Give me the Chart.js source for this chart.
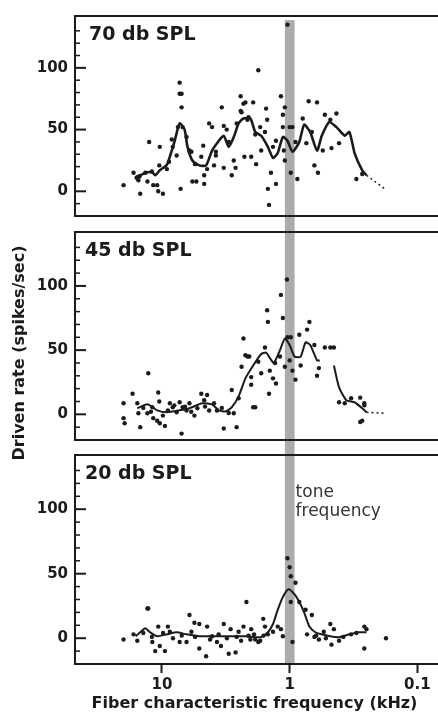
<!DOCTYPE html>
<html>
<head>
<meta charset="utf-8">
<script src="https://cdn.jsdelivr.net/npm/chart.js@4.4.1/dist/chart.umd.min.js"></script>
<style>
  html, body { margin: 0; padding: 0; background: #fff; }
  #wrap { position: relative; width: 438px; height: 721px; }
  #wrap canvas { position: absolute; left: 0; top: 0; }
</style>
</head>
<body>
<div id="wrap">
  <canvas id="panel70" width="438" height="721"></canvas>
  <canvas id="panel45" width="438" height="721"></canvas>
  <canvas id="panel20" width="438" height="721"></canvas>
</div>
<script>
// axis values
const xTickVals = [10, 1, 0.1];
const yLabelVals = [0, 50, 100];
const yTickVals = [-10, 0, 10, 20, 30, 40, 50, 60, 70, 80, 90, 100, 110, 120, 130];
const xRange = [0.074, 48];
const yRange = [-20, 142];
const toneBand = [0.915, 1.09];   // kHz, shaded tone frequency

const xTitle = 'Fiber characteristic frequency (kHz)';
const yTitle = 'Driven rate (spikes/sec)';
const toneLabel = ['tone', 'frequency'];
const levelLabels = ['70 db SPL', '45 db SPL', '20 db SPL'];

// 70 dB SPL  [kHz, spikes/sec]
const dots70 = [
  [20.0, 5], [16.7, 15], [15.8, 11], [15.3, 9], [14.8, -2], [13.0, 8], [12.6, 40], [11.7, 5], [10.9, 5],
  [10.7, 0], [10.5, 21], [10.4, 36], [9.83, -2], [9.15, 18], [8.38, 42], [8.23, 36], [7.67, 29], [7.27, 88],
  [7.27, 79], [7.02, 79], [7.02, 68], [7.14, 2], [6.89, 52], [6.42, 44], [6.09, 33], [5.88, 32], [5.78, 8],
  [5.38, 8], [4.92, 28], [4.75, 37], [4.67, 13], [4.67, 6], [4.43, 18], [4.27, 55], [4.05, 52], [3.91, 21],
  [3.78, 29], [3.78, 32], [3.40, 68], [3.28, 53], [3.28, 19], [3.11, 50], [3.0, 40], [2.84, 13], [2.74, 25],
  [2.65, 19], [2.42, 77], [2.42, 65], [2.38, 64], [2.30, 71], [2.26, 28], [2.22, 72], [2.14, 58], [2.0, 28],
  [1.93, 72], [1.86, 46], [1.83, 22], [1.76, 98], [1.70, 52], [1.67, 33], [1.56, 48], [1.53, 67], [1.50, 58],
  [1.48, 2], [1.45, -11], [1.40, 15], [1.35, 36], [1.28, 6], [1.28, 41], [1.17, 77], [1.13, 62], [1.13, 52],
  [1.11, 33], [1.09, 68], [1.09, 25], [1.04, 135], [1.0, 52], [0.98, 15], [0.95, 52], [0.87, 10], [0.79, 59],
  [0.74, 39], [0.71, 73], [0.67, 48], [0.64, 21], [0.61, 72], [0.60, 15], [0.55, 33], [0.53, 62], [0.48, 58],
  [0.47, 35], [0.43, 63], [0.41, 39], [0.30, 10], [0.27, 14],
  [15.0, 12], [13.5, 15], [12.0, 16], [8.8, 24], [7.5, 52], [5.5, 22], [2.6, 55], [2.1, 60], [0.9, 40]
];
const line70 = [
  [16.1, 11.5], [14.8, 13], [13.0, 15.4], [11.9, 15.4], [11.3, 13], [10.4, 17], [9.15, 21.5], [8.38, 33],
  [7.94, 41], [7.27, 55], [6.65, 50], [6.31, 36], [5.78, 25], [5.10, 21], [4.51, 21], [4.05, 33], [3.58, 41],
  [3.28, 45], [3.0, 36], [2.74, 44], [2.51, 55], [2.30, 59], [2.03, 59], [1.86, 48], [1.67, 45], [1.48, 36],
  [1.35, 27], [1.24, 31], [1.13, 44], [1.04, 41], [0.95, 32], [0.84, 40], [0.77, 54], [0.69, 48], [0.61, 33],
  [0.56, 45], [0.49, 56], [0.43, 52], [0.37, 45], [0.34, 48], [0.31, 31], [0.27, 17], [0.25, 13]
];
const tail70 = [[0.25, 13], [0.18, 2]];

// 45 dB SPL
const dots45 = [
  [20.0, 8.6], [20.0, -3], [19.6, -7], [17.0, 16], [15.6, 8.6], [15.3, 0.8], [14.8, -10], [13.0, 0.8],
  [12.8, 32], [11.9, 5.5], [11.7, -3], [10.9, -5], [10.7, 17], [10.5, 10], [10.4, -7], [9.83, -1], [9.48, -9],
  [8.99, 3], [8.68, 8.6], [8.23, 5.5], [7.67, 1.6], [7.27, 9.4], [7.02, -15], [6.89, 5.5], [6.42, 3],
  [6.09, 8.6], [5.57, -1], [5.28, 4.7], [4.92, 16], [4.67, 11], [4.43, 15], [4.27, 3], [3.91, 8.6], [3.71, 3],
  [3.28, -11], [2.84, 19], [2.74, 0.8], [2.60, -10], [2.51, 12.5], [2.38, 37], [2.30, 59], [2.22, 46],
  [2.14, 45], [2.07, 45], [2.0, 29], [2.0, 23], [1.93, 5.5], [1.86, 5.5], [1.76, 41], [1.67, 32], [1.56, 52],
  [1.50, 81], [1.48, 72], [1.45, 16], [1.43, 34], [1.35, 28], [1.30, 40], [1.28, 24], [1.19, 45], [1.17, 93],
  [1.13, 75], [1.09, 37], [1.05, 105], [1.04, 60], [1.0, 42], [0.98, 60], [0.95, 34], [0.90, 27], [0.84, 62],
  [0.82, 38], [0.73, 66], [0.70, 72], [0.64, 54], [0.61, 30], [0.59, 36], [0.53, 52], [0.48, 52], [0.45, 52],
  [0.41, 9.4], [0.37, 8.6], [0.33, 12.5], [0.28, 13], [0.26, 8.6], [0.26, 7], [0.27, -5], [0.28, -6],
  [14.0, 5], [12.2, 2], [8.0, 7], [6.6, 6], [5.9, 2], [4.6, 6], [3.4, 5], [3.0, 1]
];
const line45 = [
  [15.6, 4.7], [13.0, 7.8], [10.9, 3.1], [9.15, 1.6], [7.27, 3.1], [6.09, 4.7], [4.84, 8.6], [4.05, 7.8],
  [3.58, 3.1], [3.16, 2.3], [2.84, 5.5], [2.51, 14], [2.22, 28], [1.93, 38], [1.67, 47], [1.53, 48], [1.43, 44],
  [1.33, 40], [1.19, 50], [1.09, 59], [1.0, 54], [0.915, 45], [0.82, 45], [0.75, 56], [0.69, 54], [0.61, 42],
  [0.58, 42], [0.52, null], [0.45, 38], [0.41, 21], [0.36, 11], [0.31, 9.4], [0.27, 4.7], [0.25, 1.6]
];
const tail45 = [[0.25, 1.6], [0.18, 0.8]];

// 20 dB SPL
const dots20 = [
  [20.0, -1], [16.7, 3], [15.6, -2], [13.0, 23], [12.8, 23], [11.9, -3], [11.3, -10], [10.7, 9], [10.4, -6],
  [9.48, -10], [8.99, 9], [8.68, 5], [7.27, -3], [6.42, -3], [6.09, 18], [5.88, 5], [5.57, 12], [5.10, 11],
  [5.10, -8], [4.51, -14], [4.43, 9], [4.05, 1.5], [3.71, -3], [3.45, -6], [3.28, 11], [3.0, -12], [2.90, 7],
  [2.65, -11], [2.51, 5], [2.30, 9], [2.18, 28], [2.03, -1], [2.0, 7], [1.86, -1], [1.76, -3], [1.61, 15],
  [1.56, 9], [1.48, 3], [1.35, 5], [1.24, 9], [1.17, 7], [1.13, 1.5], [1.04, 62], [1.0, 55], [0.98, 48],
  [0.98, 28], [0.95, -3], [0.90, 43], [0.84, 28], [0.75, 22], [0.67, 18], [0.73, 3], [0.64, 1], [0.59, -1],
  [0.54, 5], [0.48, 11], [0.47, -5], [0.45, 7], [0.41, -2], [0.26, 9], [0.26, -8], [0.25, 7], [0.176, 0],
  [14.0, 4], [12.0, 1], [9.8, 4], [8.2, 0], [7.0, 2], [5.5, 1], [4.2, -1], [3.6, 3], [3.1, 0], [2.6, 1],
  [2.4, -2], [2.1, 2], [1.9, 3], [1.7, -2], [1.6, 2], [0.62, 2], [0.52, 0], [0.38, 1], [0.33, 3], [0.30, 4]
];
const line20 = [
  [16.1, 1.5], [14.8, 4.6], [13.5, 7.7], [12.4, 4.6], [10.9, 1.5], [9.15, 3], [7.67, 4.6], [6.42, 3],
  [5.10, 1.5], [3.78, 1.5], [2.84, 1.5], [2.22, 1.5], [1.86, 0.8], [1.67, 0.8], [1.48, 4.6], [1.35, 11],
  [1.24, 22], [1.13, 32], [1.02, 38], [0.915, 34], [0.84, 28], [0.77, 20], [0.70, 9], [0.63, 4.6], [0.56, 3],
  [0.48, 1.5], [0.41, 0.8], [0.34, 3], [0.29, 4.6], [0.25, 4.6]
];

const INK = '#1b1b1b';
const FONT = 'DejaVu Sans';
Chart.defaults.font.family = FONT;

function toXY(arr) {
    return arr.map(p => ({ x: p[0], y: p[1] }));
}

// shaded band, frame, inside ticks and panel texts
const panelDecor = {
    id: 'panelDecor',
    beforeDatasetsDraw(chart, args, opts) {
        const { ctx, chartArea: a } = chart;
        const xs = chart.scales.x;
        const x1 = xs.getPixelForValue(toneBand[1]);
        const x2 = xs.getPixelForValue(toneBand[0]);
        ctx.save();
        ctx.fillStyle = '#acacac';
        ctx.fillRect(Math.min(x1, x2), a.top + opts.bandTop, Math.abs(x2 - x1),
            (a.bottom + opts.bandBottom) - (a.top + opts.bandTop));
        ctx.restore();
    },
    afterDraw(chart, args, opts) {
        const { ctx, chartArea: a } = chart;
        const ys = chart.scales.y;
        ctx.save();
        ctx.strokeStyle = INK;
        ctx.lineWidth = 2;
        ctx.beginPath();
        ctx.moveTo(chart.width, a.top);
        ctx.lineTo(a.left, a.top);
        ctx.lineTo(a.left, a.bottom);
        ctx.lineTo(chart.width, a.bottom);
        ctx.stroke();

        // y ticks pointing into the plot
        yTickVals.forEach(v => {
            const y = ys.getPixelForValue(v);
            const major = yLabelVals.includes(v);
            ctx.lineWidth = major ? 2 : 1.5;
            ctx.beginPath();
            ctx.moveTo(a.left, y);
            ctx.lineTo(a.left + (major ? 11 : 5), y);
            ctx.stroke();
        });

        ctx.fillStyle = INK;
        ctx.font = 'bold 19px ' + FONT;
        ctx.textAlign = 'left';
        ctx.textBaseline = 'alphabetic';
        ctx.fillText(opts.label, opts.labelX, a.top + 24);

        if (opts.yTitle) {
            ctx.save();
            ctx.translate(24, 353);
            ctx.rotate(-Math.PI / 2);
            ctx.font = 'bold 16px ' + FONT;
            ctx.textAlign = 'center';
            ctx.fillText(yTitle, 0, 0);
            ctx.restore();
        }
        if (opts.tone) {
            const tx = chart.scales.x.getPixelForValue(toneBand[0]) + 1;
            ctx.font = '17px ' + FONT;
            ctx.fillStyle = '#333';
            ctx.fillText(toneLabel[0], tx, a.top + 42);
            ctx.fillText(toneLabel[1], tx, a.top + 61);
        }
        ctx.restore();
    }
};

function renderPanel(id, p) {
    const ctx = document.getElementById(id).getContext('2d');
    const config = {
        type: 'scatter',
        data: {
            datasets: [{
                data: toXY(p.line),
                showLine: true,
                borderColor: INK,
                borderWidth: p.lineWidth,
                pointRadius: 0,
                tension: 0.2,
                spanGaps: false
            }, {
                data: toXY(p.tail || []),
                showLine: true,
                borderColor: INK,
                borderWidth: 1.5,
                borderDash: [2, 3],
                pointRadius: 0
            }, {
                data: toXY(p.dots),
                backgroundColor: INK,
                borderWidth: 0,
                pointRadius: 2.2
            }]
        },
        options: {
            responsive: false,
            animation: false,
            events: [],
            layout: {
                padding: { top: p.top, bottom: p.showX ? 0 : 721 - p.bottom, left: 0, right: 0 }
            },
            plugins: {
                legend: { display: false },
                tooltip: { enabled: false },
                panelDecor: p.decor
            },
            scales: {
                x: {
                    type: 'logarithmic',
                    reverse: true,
                    min: xRange[0],
                    max: xRange[1],
                    display: p.showX,
                    afterBuildTicks: s => { s.ticks = xTickVals.map(v => ({ value: v })); },
                    afterFit: s => { s.height = p.showX ? 721 - p.bottom : 0; },
                    ticks: {
                        callback: v => String(v),
                        font: { size: 15, weight: 'bold' },
                        color: INK,
                        padding: 3,
                        maxRotation: 0,
                        autoSkip: false
                    },
                    grid: { drawOnChartArea: false, drawTicks: true, tickLength: 9, tickWidth: 2, tickColor: INK },
                    border: { display: false },
                    title: {
                        display: true,
                        text: xTitle,
                        font: { size: 16, weight: 'bold' },
                        color: INK,
                        padding: { top: 0, bottom: 8 }
                    }
                },
                y: {
                    min: yRange[0],
                    max: yRange[1],
                    afterBuildTicks: s => { s.ticks = yLabelVals.map(v => ({ value: v })); },
                    afterFit: s => { s.width = 75; },
                    ticks: { font: { size: 15, weight: 'bold' }, color: INK, padding: 7 },
                    grid: { display: false, drawTicks: false },
                    border: { display: false }
                }
            }
        },
        plugins: [panelDecor]
    };
    new Chart(ctx, config);
}

renderPanel('panel70', {
    dots: dots70, line: line70, tail: tail70, top: 6, bottom: 216, showX: false, lineWidth: 2.6,
    decor: { label: levelLabels[0], labelX: 89, bandTop: 4, bandBottom: 8 }
});
renderPanel('panel45', {
    dots: dots45, line: line45, tail: tail45, top: 232, bottom: 440, showX: false, lineWidth: 2,
    decor: { label: levelLabels[1], labelX: 85, bandTop: -8, bandBottom: 8, yTitle: true }
});
renderPanel('panel20', {
    dots: dots20, line: line20, top: 455, bottom: 664, showX: true, lineWidth: 2,
    decor: { label: levelLabels[2], labelX: 85, bandTop: -7, bandBottom: 0, tone: true }
});
</script>
</body>
</html>
